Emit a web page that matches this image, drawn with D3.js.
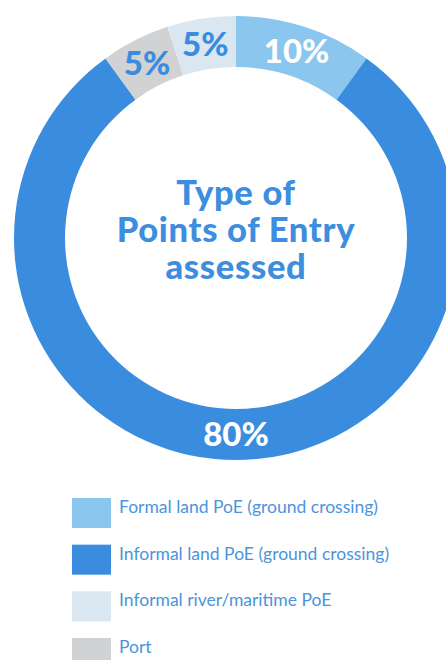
<!DOCTYPE html>
<html>
<head>
<meta charset="utf-8">
<script src="https://cdn.jsdelivr.net/npm/d3@7"></script>
<style>
  html, body { margin: 0; padding: 0; background: #ffffff; }
  svg { display: block; }
</style>
</head>
<body>
<svg id="chart" width="446" height="660"></svg>
<script>
// Point-of-entry types, in ring order (clockwise from 12 o'clock)
const categories = [
  "Formal land PoE (ground crossing)",
  "Informal land PoE (ground crossing)",
  "Port",
  "Informal river/maritime PoE"
];
const shares = [10, 80, 5, 5];
const colors = ["#8bc6ee", "#3a8dde", "#d1d2d4", "#dae7f1"];
const labelColors = ["#ffffff", "#ffffff", "#3a8dde", "#3a8dde"];

// Legend order
const legendOrder = [
  "Formal land PoE (ground crossing)",
  "Informal land PoE (ground crossing)",
  "Informal river/maritime PoE",
  "Port"
];

const titleLines = ["Type of", "Points of Entry", "assessed"];

const svg = d3.select("#chart");
const cx = 236, cy = 238;
const outerR = 222, innerR = 171;

const color = d3.scaleOrdinal().domain(categories).range(colors);
const labelColor = d3.scaleOrdinal().domain(categories).range(labelColors);

const data = categories.map((c, i) => ({ name: c, value: shares[i] }));

const pie = d3.pie().value(d => d.value).sort(null);
const arc = d3.arc().innerRadius(innerR).outerRadius(outerR);
const labelArc = d3.arc().innerRadius(180).outerRadius(212);

const ring = svg.append("g").attr("transform", `translate(${cx},${cy})`);
const arcs = pie(data);

ring.selectAll("path")
  .data(arcs)
  .join("path")
  .attr("d", arc)
  .attr("fill", d => color(d.data.name));

ring.selectAll("text.pct")
  .data(arcs)
  .join("text")
  .attr("class", "pct")
  .attr("transform", d => `translate(${labelArc.centroid(d)})`)
  .attr("text-anchor", "middle")
  .attr("dy", "0.36em")
  .attr("font-family", "Lato, 'Open Sans', sans-serif")
  .attr("font-weight", 900)
  .attr("font-size", 33)
  .attr("fill", d => labelColor(d.data.name))
  .text(d => d.data.value + "%");

// Centre title: one text block, one tspan per line
svg.append("text")
  .attr("text-anchor", "middle")
  .attr("font-family", "Lato, 'Open Sans', sans-serif")
  .attr("font-weight", 900)
  .attr("font-size", 34.5)
  .attr("letter-spacing", 0.7)
  .attr("fill", "#3d8ede")
  .selectAll("tspan")
  .data(titleLines)
  .join("tspan")
  .attr("x", cx)
  .attr("y", (d, i) => 205 + i * 37)
  .text(d => d);

// Legend
const legendY = d3.scalePoint().domain(legendOrder).range([498, 638]);
const legend = svg.append("g");
const rows = legend.selectAll("g")
  .data(legendOrder)
  .join("g")
  .attr("transform", d => `translate(72,${legendY(d)})`);

rows.append("rect")
  .attr("width", 39)
  .attr("height", 30)
  .attr("fill", d => color(d));

rows.append("text")
  .attr("x", 47)
  .attr("y", 15)
  .attr("font-family", "Lato, 'Open Sans', sans-serif")
  .attr("font-weight", 400)
  .attr("font-size", 17.5)
  .attr("fill", "#4a94dc")
  .text(d => d);
</script>
</body>
</html>
